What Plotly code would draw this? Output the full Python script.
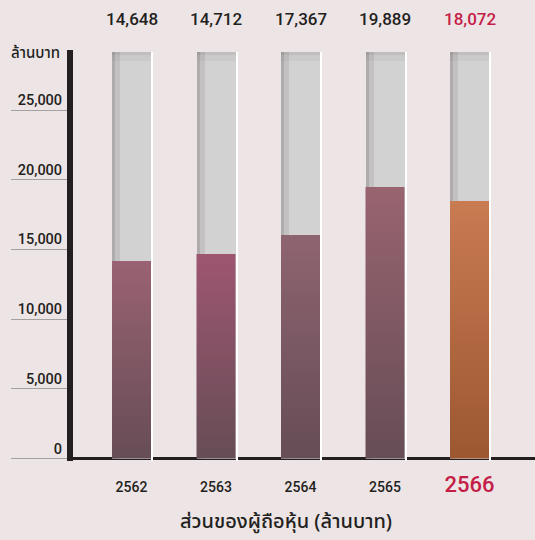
import plotly.graph_objects as go

# data
years = ["2562", "2563", "2564", "2565", "2566"]
equity = [14170, 14670, 16030, 19480, 18470]          # bar heights (ล้านบาท)
top_labels = ["14,648", "14,712", "17,367", "19,889", "18,072"]
scale_max = 29160                                      # grey backdrop height
y_ticks = [0, 5000, 10000, 15000, 20000, 25000]

# styling
bar_top = ["#9a6272", "#9e5670", "#8e6470", "#986470", "#c97b52"]
bar_bottom = ["#664d56", "#664d56", "#664d56", "#664d56", "#9c5731"]
label_colors = ["#231f20"] * 4 + ["#c41e46"]
BG = "#ede4e6"
DARK = "#231f20"
FONT = "Roboto, Liberation Sans, Arial, sans-serif"
THAI = "Noto Sans Thai, Noto Sans, sans-serif"

px_unit = 84.5          # pixels per category step
bw = 39 / px_unit       # bar width in x units
hw = bw / 2
xs = list(range(len(years)))

fig = go.Figure()

# grey backdrop bars
fig.add_trace(go.Bar(x=xs, y=[scale_max] * len(xs), width=bw,
                     marker=dict(color="#d3d2d2", line_width=0), hoverinfo="skip"))

# equity bars with a vertical gradient
for i, v in enumerate(equity):
    fig.add_trace(go.Scatter(
        x=[i - hw, i + hw, i + hw, i - hw, i - hw], y=[0, 0, v, v, 0],
        mode="lines", line_width=0, fill="toself",
        fillgradient=dict(type="vertical",
                          colorscale=[[0, bar_bottom[i]], [1, bar_top[i]]]),
        name=years[i], hovertemplate=f"{years[i]}: {v:,}<extra></extra>"))

# left edge shading
fig.add_trace(go.Bar(x=xs, y=[scale_max] * len(xs), width=3 / px_unit, offset=-hw,
                     marker=dict(color="rgba(30,20,25,0.2)", line_width=0), hoverinfo="skip"))
fig.add_trace(go.Bar(x=xs, y=[scale_max] * len(xs), width=5 / px_unit, offset=-hw + 3 / px_unit,
                     marker=dict(color="rgba(30,20,25,0.09)", line_width=0), hoverinfo="skip"))
# top edge shading of backdrop
d1 = 3 / 0.01394
d2 = 6 / 0.01394
fig.add_trace(go.Bar(x=xs, y=[d1] * len(xs), base=[scale_max - d1] * len(xs), width=bw,
                     marker=dict(color="rgba(30,20,25,0.10)", line_width=0), hoverinfo="skip"))
fig.add_trace(go.Bar(x=xs, y=[d2] * len(xs), base=[scale_max - d1 - d2] * len(xs), width=bw,
                     marker=dict(color="rgba(30,20,25,0.04)", line_width=0), hoverinfo="skip"))
# white strip on the right of each bar
fig.add_trace(go.Bar(x=xs, y=[scale_max + 180] * len(xs), base=[-180] * len(xs),
                     width=2.2 / px_unit, offset=hw,
                     marker=dict(color="white", line_width=0), hoverinfo="skip"))

tick_text = [f"<span style='font-size:14px'>{y}</span>" for y in years[:-1]]
tick_text.append(f"<span style='font-size:22px;color:#c41e46'>{years[-1]}</span>")

annotations = []
for i, t in enumerate(top_labels):
    annotations.append(dict(x=i, y=1, xref="x", yref="paper", text=t, showarrow=False,
                            yanchor="bottom", yshift=19,
                            font=dict(family=FONT, size=17, weight=500, color=label_colors[i])))
annotations.append(dict(x=0, y=1, xref="paper", yref="paper", text="ล้านบาท",
                        showarrow=False, xanchor="right", yanchor="middle",
                        xshift=-11, yshift=-3,
                        font=dict(family=THAI, size=15, weight=500, color=DARK)))
annotations.append(dict(x=(286 - 73) / 462, y=0, xref="paper", yref="paper",
                        text="ส่วนของผู้ถือหุ้น (ล้านบาท)", showarrow=False,
                        yanchor="middle", yshift=-61,
                        font=dict(family=THAI, size=20, weight=500, color=DARK)))

fig.update_layout(
    width=535, height=540,
    margin=dict(l=73, r=0, t=50, b=79),
    paper_bgcolor=BG, plot_bgcolor=BG,
    barmode="overlay", bargap=0, showlegend=False,
    font=dict(family=FONT, color=DARK),
    annotations=annotations,
    xaxis=dict(range=[(73 - 131.5) / px_unit, (535 - 131.5) / px_unit],
               tickvals=xs, ticktext=tick_text,
               tickfont=dict(size=14, weight=500, color=DARK),
               showgrid=False, zeroline=False, showline=False, ticks="",
               ticklabelstandoff=16, fixedrange=True),
    yaxis=dict(range=[-179, 29304], tickvals=y_ticks, tickformat=",d",
               tickfont=dict(size=14.5, weight=500, color=DARK),
               showline=True, linecolor=DARK, linewidth=6,
               ticks="outside", ticklen=56, tickwidth=1.3, tickcolor="#a3a1a2",
               ticklabelshift=-10, ticklabelstandoff=-54,
               showgrid=False, zeroline=True, zerolinecolor=DARK, zerolinewidth=2.5,
               fixedrange=True),
)

fig.write_html("out.html", config={"displayModeBar": False},
               post_script="document.body.style.margin='0';")
